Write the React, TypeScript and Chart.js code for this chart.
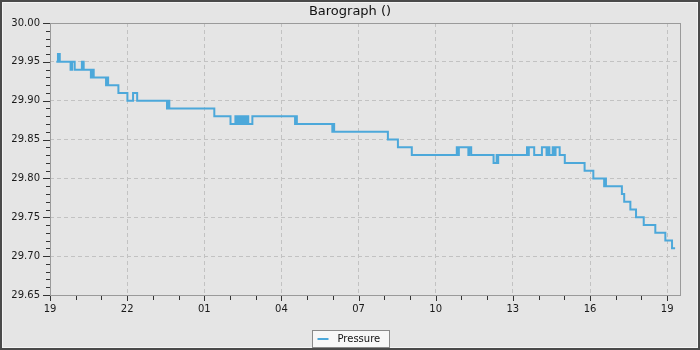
import React, { useEffect, useRef } from 'react';
import Chart from 'chart.js/auto';

// Hours elapsed since 19:00 on the first day, and the barometer reading (inHg) from that moment on.
const hours = [
  0.245, 0.31, 0.38, 0.80, 0.86, 0.96, 1.24, 1.31, 1.59, 1.63, 1.70, 2.18, 2.21, 2.26, 2.66,
  3.01, 3.23, 3.39, 4.55, 4.59, 4.64, 6.39, 7.02, 7.21, 7.27, 7.34, 7.40, 7.45, 7.50, 7.55,
  7.60, 7.66, 7.71, 7.87, 9.53, 9.56, 9.60, 10.98, 11.01, 11.05, 13.14, 13.53, 14.07, 15.82,
  15.85, 15.90, 16.27, 16.30, 16.38, 17.25, 17.37, 17.39, 17.43, 18.55, 18.60, 18.62, 18.83,
  19.13, 19.31, 19.35, 19.42, 19.55, 19.62, 19.66, 19.82, 20.02, 20.79, 21.13, 21.55, 21.58,
  21.62, 22.24, 22.33, 22.57, 22.79, 23.09, 23.54, 23.93, 24.19, 24.31,
];
const pressure = [
  29.95, 29.96, 29.95, 29.94, 29.95, 29.94, 29.95, 29.94, 29.93, 29.94, 29.93, 29.92, 29.93, 29.92, 29.91,
  29.90, 29.91, 29.90, 29.89, 29.90, 29.89, 29.88, 29.87, 29.88, 29.87, 29.88, 29.87, 29.88, 29.87, 29.88,
  29.87, 29.88, 29.87, 29.88, 29.87, 29.88, 29.87, 29.86, 29.87, 29.86, 29.85, 29.84, 29.83, 29.84,
  29.83, 29.84, 29.83, 29.84, 29.83, 29.82, 29.83, 29.82, 29.83, 29.84, 29.83, 29.84, 29.83,
  29.84, 29.83, 29.84, 29.83, 29.84, 29.83, 29.84, 29.83, 29.82, 29.81, 29.80, 29.79, 29.80,
  29.79, 29.78, 29.77, 29.76, 29.75, 29.74, 29.73, 29.72, 29.71, 29.71,
];

const seriesLabel = 'Pressure';
const chartTitle = 'Barograph ()';
const startHour = 19;
const xMin = 0;
const xMax = 24.5;
const xLabelEveryHours = 3;
const yMin = 29.65;
const yMax = 30.0;
const yLabelEveryHundredths = 5;

const FONT = 'DejaVu Sans';
const LINE_COLOR = '#4ca8da';

const isMajorX = (v: number) => Math.abs(v / xLabelEveryHours - Math.round(v / xLabelEveryHours)) < 1e-6;
const isMajorY = (v: number) => Math.round(v * 100) % yLabelEveryHundredths === 0;

const backgroundPlugin = {
  id: 'bg',
  beforeDraw(chart: any) {
    const { ctx, width, height } = chart;
    ctx.save();
    ctx.fillStyle = '#e5e5e5';
    ctx.fillRect(0, 0, width, height);
    ctx.strokeStyle = '#4a4a4a';
    ctx.lineWidth = 2;
    ctx.strokeRect(1, 1, width - 2, height - 2);
    ctx.strokeStyle = '#f4f4f4';
    ctx.lineWidth = 1;
    ctx.strokeRect(2.5, 2.5, width - 5, height - 5);
    ctx.restore();
  },
};

const frameTicksPlugin = {
  id: 'frameTicks',
  beforeDatasetsDraw(chart: any) {
    const { ctx, chartArea } = chart;
    const xs = chart.scales.x;
    const ys = chart.scales.y;
    ctx.save();
    ctx.strokeStyle = '#9a9a9a';
    ctx.lineWidth = 1;
    ctx.strokeRect(
      Math.round(chartArea.left) + 0.5,
      Math.round(chartArea.top) + 0.5,
      Math.round(chartArea.right - chartArea.left),
      Math.round(chartArea.bottom - chartArea.top)
    );
    ctx.strokeStyle = '#333';
    ctx.beginPath();
    xs.ticks.forEach((t: any) => {
      const px = Math.round(xs.getPixelForValue(t.value)) + 0.5;
      const len = isMajorX(t.value) ? 5 : 4;
      ctx.moveTo(px, chartArea.bottom + 1);
      ctx.lineTo(px, chartArea.bottom + 1 + len);
    });
    ys.ticks.forEach((t: any) => {
      const py = Math.round(ys.getPixelForValue(t.value)) + 0.5;
      const len = isMajorY(t.value) ? 7 : 4;
      ctx.moveTo(chartArea.left, py);
      ctx.lineTo(chartArea.left - len, py);
    });
    ctx.stroke();
    ctx.restore();
  },
};

const legendPlugin = {
  id: 'boxLegend',
  afterDraw(chart: any) {
    const { ctx, width, height } = chart;
    const ds = chart.data.datasets[0];
    ctx.save();
    ctx.font = `10px "${FONT}"`;
    const tw = ctx.measureText(ds.label).width;
    const boxW = Math.round(5 + 11 + 9 + tw + 9);
    const boxH = 17;
    const left = Math.round(width / 2 - boxW / 2) + 0.5;
    const top = height - 20 + 0.5;
    ctx.fillStyle = '#f7f7f7';
    ctx.fillRect(left, top, boxW, boxH);
    ctx.strokeStyle = '#8a8a8a';
    ctx.lineWidth = 1;
    ctx.strokeRect(left, top, boxW, boxH);
    const cy = top + boxH / 2;
    ctx.strokeStyle = ds.borderColor;
    ctx.lineWidth = 2;
    ctx.beginPath();
    ctx.moveTo(left + 5, cy);
    ctx.lineTo(left + 16, cy);
    ctx.stroke();
    ctx.fillStyle = '#111';
    ctx.textBaseline = 'middle';
    ctx.textAlign = 'left';
    ctx.fillText(ds.label, left + 25, cy);
    ctx.restore();
  },
};

export default function App() {
  const ref = useRef<HTMLCanvasElement | null>(null);

  useEffect(() => {
    if (!ref.current) return;
    const chart = new Chart(ref.current, {
      type: 'line',
      data: {
        datasets: [
          {
            label: seriesLabel,
            data: hours.map((h, i) => ({ x: h, y: pressure[i] })),
            borderColor: LINE_COLOR,
            backgroundColor: LINE_COLOR,
            borderWidth: 2,
            pointRadius: 0,
            stepped: 'before',
            fill: false,
            tension: 0,
          },
        ],
      },
      options: {
        animation: false,
        responsive: false,
        maintainAspectRatio: false,
        events: [],
        layout: { padding: { left: 0, right: 0, top: 0, bottom: 25 } },
        plugins: {
          legend: { display: false },
          tooltip: { enabled: false },
          title: {
            display: true,
            text: chartTitle,
            color: '#111',
            font: { family: FONT, size: 13, weight: 'normal' },
            padding: { top: 4, bottom: 3.4 },
          },
        },
        scales: {
          x: {
            type: 'linear',
            min: xMin,
            max: xMax,
            afterFit(scale: any) {
              scale.height = 30;
            },
            ticks: {
              stepSize: 1,
              includeBounds: false,
              autoSkip: false,
              maxRotation: 0,
              padding: 8,
              color: '#1a1a1a',
              font: { family: FONT, size: 10 },
              callback: (v: any) => {
                const n = Number(v);
                if (!isMajorX(n)) return '';
                const h = (startHour + Math.round(n)) % 24;
                return String(h).padStart(2, '0');
              },
            },
            grid: {
              drawTicks: false,
              color: (c: any) => (c.tick && isMajorX(c.tick.value) && c.tick.value > xMin ? '#c2c2c2' : 'rgba(0,0,0,0)'),
              lineWidth: 1,
            },
            border: { display: false, dash: [4, 3] },
          },
          y: {
            type: 'linear',
            position: 'left',
            min: yMin,
            max: yMax,
            afterFit(scale: any) {
              scale.width = 50;
            },
            ticks: {
              stepSize: 0.01,
              autoSkip: false,
              padding: 10,
              color: '#1a1a1a',
              font: { family: FONT, size: 10 },
              callback: (v: any) => {
                const n = Number(v);
                return isMajorY(n) ? (Math.round(n * 100) / 100).toFixed(2) : '';
              },
            },
            grid: {
              drawTicks: false,
              color: (c: any) => (c.tick && isMajorY(c.tick.value) ? '#c2c2c2' : 'rgba(0,0,0,0)'),
              lineWidth: 1,
            },
            border: { display: false, dash: [4, 3] },
          },
          yRightSpace: {
            type: 'linear',
            position: 'right',
            min: yMin,
            max: yMax,
            afterFit(scale: any) {
              scale.width = 20;
            },
            ticks: { display: false },
            grid: { display: false, drawTicks: false },
            border: { display: false },
          },
        },
      },
      plugins: [backgroundPlugin, frameTicksPlugin, legendPlugin],
    } as any);
    return () => chart.destroy();
  }, []);

  return (
    <div style={{ position: 'absolute', left: 0, top: 0, width: 700, height: 350 }}>
      <canvas ref={ref} width={700} height={350} style={{ display: 'block' }} />
    </div>
  );
}
